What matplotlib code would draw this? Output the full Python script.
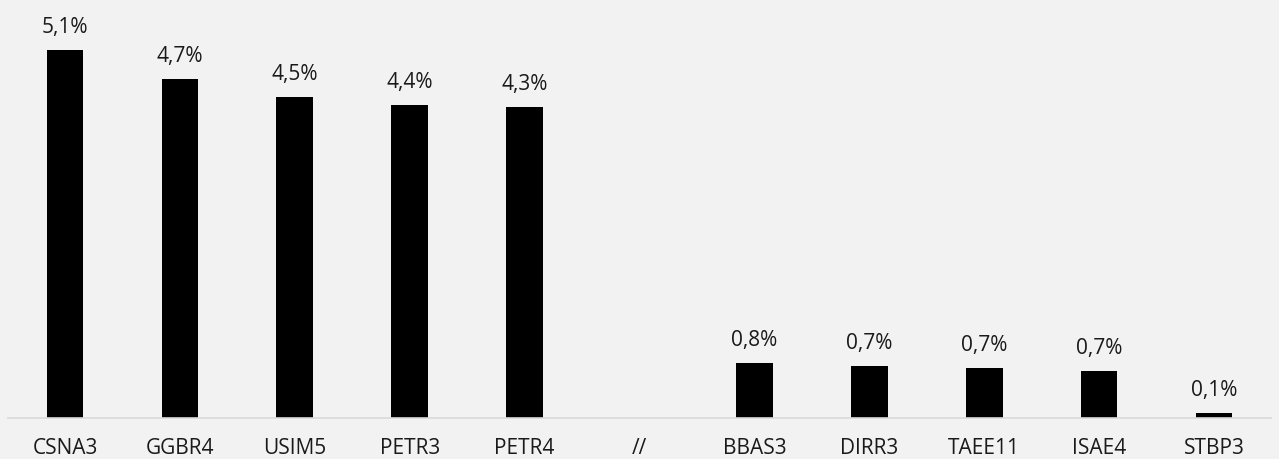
import matplotlib.pyplot as plt
import numpy as np

tickers = ["CSNA3", "GGBR4", "USIM5", "PETR3", "PETR4", "//",
           "BBAS3", "DIRR3", "TAEE11", "ISAE4", "STBP3"]
# heights (the "//" slot is an axis break, no bar)
values = [5.10, 4.70, 4.44, 4.34, 4.31, np.nan, 0.77, 0.72, 0.70, 0.66, 0.07]
value_labels = ["5,1%", "4,7%", "4,5%", "4,4%", "4,3%", "",
                "0,8%", "0,7%", "0,7%", "0,7%", "0,1%"]

BG = "#f2f2f2"
TEXT = "#1a1a1a"

plt.rcParams["font.family"] = ["Open Sans", "DejaVu Sans"]

fig = plt.figure(figsize=(12.79, 4.59), dpi=100, facecolor=BG)
ax = fig.add_axes([0.006, 0.0885, 0.988, 0.882], facecolor=BG)

x = np.arange(len(tickers))
ax.bar(x, values, width=0.32, color="black")

for xi, v, lab in zip(x, values, value_labels):
    if np.isnan(v):
        continue
    ax.annotate(lab, (xi, v), xytext=(0, 12.3), textcoords="offset points",
                ha="center", va="baseline", fontsize=15, color=TEXT)

ax.set_xlim(-0.5, len(tickers) - 0.5)
ax.set_ylim(0, 5.6)
ax.set_xticks(x)
ax.set_xticklabels(tickers, fontsize=15, color=TEXT)
ax.tick_params(axis="x", length=0, pad=14)
ax.set_yticks([])

for side in ["top", "right", "left"]:
    ax.spines[side].set_visible(False)
ax.spines["bottom"].set_color("#d9d9d9")
ax.spines["bottom"].set_linewidth(1.2)

fig.savefig("out.png", dpi=100, facecolor=BG)
